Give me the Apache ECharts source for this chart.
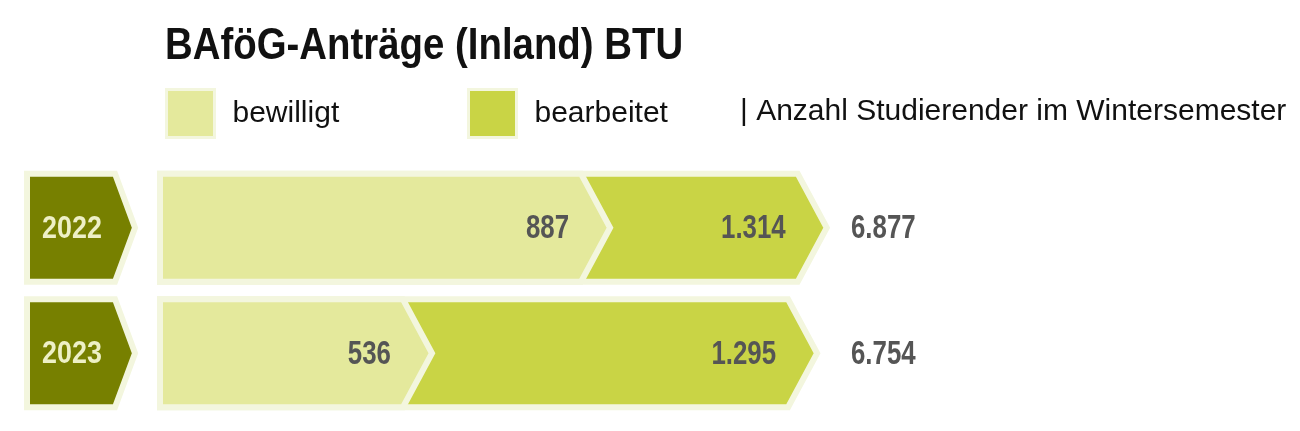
<!DOCTYPE html>
<html>
<head>
<meta charset="utf-8">
<script src="https://cdn.jsdelivr.net/npm/echarts@6/dist/echarts.min.js"></script>
<style>
html,body{margin:0;padding:0;background:#fff;}
#chart{width:1300px;height:431px;}
</style>
</head>
<body>
<div id="chart"></div>
<script>
const years = ['2022', '2023'];
const bewilligt = [887, 536];
const bearbeitet = [1314, 1295];
const studierende = [6877, 6754];
const titleText = 'BAföG-Anträge (Inland) BTU';
const legendNames = ['bewilligt', 'bearbeitet', '| Anzahl Studierender im Wintersemester'];

const X_MAX = 1350;
const FONT = '"Liberation Sans", Arial, sans-serif';
const C_LIGHT = '#e4e99c';
const C_DARK = '#c9d445';
const C_OLIVE = '#778000';
const C_PALE = '#f3f6de';
const C_NUM = '#555555';
const NUM_FONT = 'bold 34px ' + FONT;
const NUM_SCALE = 0.76;

function fmt(v) { return String(v).replace(/\B(?=(\d{3})+(?!\d))/g, '.'); }

function barRenderer(color) {
  return function (params, api) {
    const v = api.value(0), cat = api.value(1);
    const s = api.coord([0, cat]);
    const e = api.coord([v, cat]);
    const hh = api.size([0, 1])[1] * 0.43;
    const d = 29;
    const y = s[1];
    const pts = [[s[0], y - hh], [e[0] - d, y - hh], [e[0], y], [e[0] - d, y + hh], [s[0], y + hh]];
    return {
      type: 'group',
      children: [
        { type: 'polygon', shape: { points: pts },
          style: { fill: color, stroke: C_PALE, lineWidth: 6, lineJoin: 'miter' } },
        { type: 'text', x: e[0] - 41, y: y + 1, scaleX: NUM_SCALE,
          style: { text: fmt(v), x: 0, y: 0, align: 'right', verticalAlign: 'middle',
            fill: C_NUM, font: NUM_FONT } }
      ]
    };
  };
}

function yearRenderer(params, api) {
  const cat = api.value(1);
  const s = api.coord([0, cat]);
  const hh = api.size([0, 1])[1] * 0.43;
  const y = s[1];
  const x0 = s[0] - 133, x1 = s[0] - 45, x2 = s[0] - 25;
  const pts = [[x0, y - hh], [x1, y - hh], [x2, y], [x1, y + hh], [x0, y + hh]];
  return {
    type: 'group',
    children: [
      { type: 'polygon', shape: { points: pts },
        style: { fill: C_OLIVE, stroke: C_PALE, lineWidth: 6, lineJoin: 'miter' } },
      { type: 'text', x: (x0 + x1) / 2 + 1, y: y + 1, scaleX: 0.84,
        style: { text: years[params.dataIndex], x: 0, y: 0, align: 'center',
          verticalAlign: 'middle', fill: '#eef0c6', font: 'bold 32px ' + FONT } }
    ]
  };
}

function totalRenderer(params, api) {
  const cat = api.value(1);
  const p = api.coord([X_MAX, cat]);
  return {
    type: 'text', x: p[0] + 6, y: p[1] + 1, scaleX: NUM_SCALE,
    style: { text: fmt(api.value(0)), x: 0, y: 0, align: 'left', verticalAlign: 'middle',
      fill: C_NUM, font: NUM_FONT }
  };
}

const chart = echarts.init(document.getElementById('chart'), null, { renderer: 'canvas' });
const legendText = { fontFamily: FONT, fontSize: 30, color: '#111', padding: [0, 0, 0, 13] };
const legendCommon = { top: 88, padding: 0, icon: 'rect', itemWidth: 48, itemHeight: 48,
  selectedMode: false, itemStyle: { borderColor: C_PALE, borderWidth: 3 }, textStyle: legendText };
chart.setOption({
  animation: false,
  graphic: [
    { type: 'text', x: 165, y: 47, scaleX: 0.853,
      style: { text: titleText, x: 0, y: 0, align: 'left', verticalAlign: 'middle',
        fill: '#111', font: 'bold 45px ' + FONT } }
  ],
  legend: [
    Object.assign({ data: [legendNames[0]], left: 165 }, legendCommon),
    Object.assign({ data: [legendNames[1]], left: 467 }, legendCommon),
    { data: [{ name: legendNames[2], icon: 'none' }], left: 722, top: 88, padding: 0, itemWidth: 0, itemHeight: 48,
      selectedMode: false, textStyle: legendText }
  ],
  grid: { left: 160, right: 455, top: 165, bottom: 15, containLabel: false },
  xAxis: { type: 'value', min: 0, max: X_MAX, show: false },
  yAxis: { type: 'category', data: years, inverse: true, show: false },
  series: [
    { name: legendNames[1], type: 'custom', renderItem: barRenderer(C_DARK), itemStyle: { color: C_DARK },
      encode: { x: 0, y: 1 }, z: 2, clip: false,
      data: bearbeitet.map((v, i) => [v, i]) },
    { name: legendNames[0], type: 'custom', renderItem: barRenderer(C_LIGHT), itemStyle: { color: C_LIGHT },
      encode: { x: 0, y: 1 }, z: 3, clip: false,
      data: bewilligt.map((v, i) => [v, i]) },
    { name: 'Jahr', type: 'custom', renderItem: yearRenderer, itemStyle: { color: C_OLIVE },
      encode: { x: 0, y: 1 }, z: 3, clip: false,
      data: years.map((y, i) => [0, i]) },
    { name: legendNames[2], type: 'custom', renderItem: totalRenderer, itemStyle: { color: C_NUM },
      encode: { x: 2, y: 1 }, z: 3, clip: false,
      data: studierende.map((v, i) => [v, i, 0]) }
  ]
});
</script>
</body>
</html>
